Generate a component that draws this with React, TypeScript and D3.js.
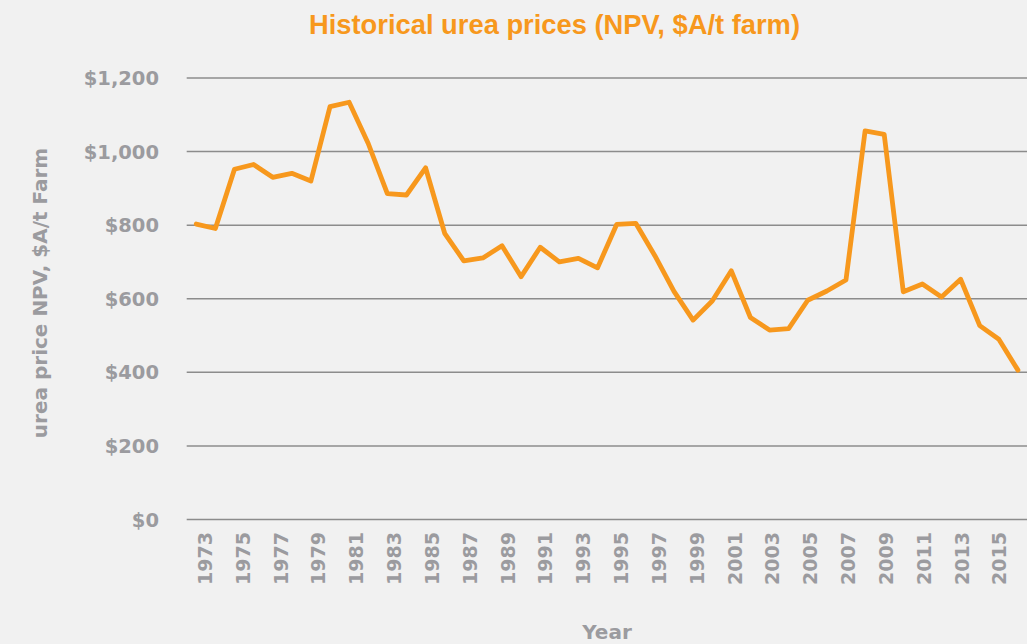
import React from "react";
import * as d3 from "d3";

const years: number[] = [
  1973, 1974, 1975, 1976, 1977, 1978, 1979, 1980, 1981, 1982, 1983, 1984, 1985,
  1986, 1987, 1988, 1989, 1990, 1991, 1992, 1993, 1994, 1995, 1996, 1997, 1998,
  1999, 2000, 2001, 2002, 2003, 2004, 2005, 2006, 2007, 2008, 2009, 2010, 2011,
  2012, 2013, 2014, 2015, 2016,
];
const prices: number[] = [
  803, 791, 952, 965, 930, 941, 920, 1122, 1134, 1022, 886, 882, 956,
  778, 703, 711, 744, 660, 740, 700, 710, 684, 802, 805, 717, 620,
  542, 594, 676, 549, 515, 519, 596, 621, 651, 1056, 1047, 619, 640,
  605, 653, 527, 490, 406,
];
const yTicks: number[] = [0, 200, 400, 600, 800, 1000, 1200];
const xTickYears: number[] = years.filter((y) => (y - 1973) % 2 === 0 && y <= 2015);

const title = "Historical urea prices (NPV, $A/t farm)";
const yTitle = "urea price NPV, $A/t Farm";
const xTitle = "Year";

const W = 1027;
const H = 644;
const plotLeft = 186.7;
const plotRight = 1027.5;
const plotTop = 78;
const plotBottom = 519.5;

const ORANGE = "#f7981d";
const GRAY_TEXT = "#9b9b9f";
const GRID = "#8c8c8c";
const BG = "#f1f1f1";
const FONT = "'DejaVu Sans', sans-serif";

export default function App() {
  const x = d3
    .scaleBand<number>()
    .domain(years)
    .range([plotLeft, plotRight])
    .paddingInner(0)
    .paddingOuter(0);
  const xc = (yr: number) => (x(yr) as number) + x.bandwidth() / 2;
  const xLabel = d3.scaleLinear().domain([1973, 2015]).range([205, 999.5]);
  const y = d3.scaleLinear().domain([0, 1200]).range([plotBottom, plotTop]);
  const fmt = (v: number) => "$" + d3.format(",")(v);

  const line = d3
    .line<number>()
    .x((_, i) => xc(years[i]))
    .y((d) => y(d))
    .curve(d3.curveLinear);

  return (
    <svg
      width={W}
      height={H}
      style={{ position: "absolute", left: 0, top: 0, background: BG }}
    >
      <rect x={0} y={0} width={W} height={H} fill={BG} />
      <text
        x={309}
        y={34}
        fill={ORANGE}
        fontFamily="'Liberation Sans Narrow', 'Liberation Sans', Arial, sans-serif"
        fontWeight="bold"
        fontSize={28}
        textLength={491}
        lengthAdjust="spacingAndGlyphs"
      >
        {title}
      </text>
      {yTicks.map((t) => (
        <g key={t}>
          <line
            x1={plotLeft}
            x2={plotRight}
            y1={y(t)}
            y2={y(t)}
            stroke={GRID}
            strokeWidth={1.5}
          />
          <text
            x={159}
            y={y(t)}
            dy="0.36em"
            textAnchor="end"
            fill={GRAY_TEXT}
            fontFamily={FONT}
            fontWeight="bold"
            fontSize={19.5}
          >
            {fmt(t)}
          </text>
        </g>
      ))}
      {xTickYears.map((yr) => (
        <text
          key={yr}
          transform={`translate(${xLabel(yr)},532) rotate(-90)`}
          dy="0.36em"
          textAnchor="end"
          fill={GRAY_TEXT}
          fontFamily={FONT}
          fontWeight="bold"
          fontSize={19}
        >
          {yr}
        </text>
      ))}
      <path
        d={line(prices) || ""}
        fill="none"
        stroke={ORANGE}
        strokeWidth={4.8}
        strokeLinejoin="round"
        strokeLinecap="round"
      />
      <text
        transform={`translate(47,293) rotate(-90)`}
        textAnchor="middle"
        fill={GRAY_TEXT}
        fontFamily={FONT}
        fontWeight="bold"
        fontSize={20}
      >
        {yTitle}
      </text>
      <text
        x={607}
        y={639}
        textAnchor="middle"
        fill={GRAY_TEXT}
        fontFamily={FONT}
        fontWeight="bold"
        fontSize={20}
      >
        {xTitle}
      </text>
    </svg>
  );
}
